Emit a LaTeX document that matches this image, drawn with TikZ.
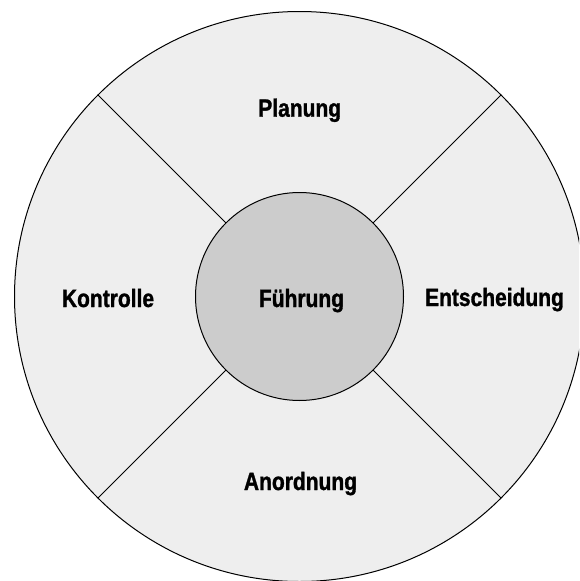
\documentclass[tikz,border=0pt]{standalone}
\usepackage{fontspec}
\newfontfamily\labfont[FakeStretch=0.84,BoldFeatures={FakeBold=1.2}]{Liberation Sans}
\definecolor{outerfill}{HTML}{EEEEEE}
\definecolor{innerfill}{HTML}{CCCCCC}
\begin{document}
\begin{tikzpicture}[x=1pt,y=-1pt,
  ring/.style={circle,draw=black,line width=1pt,inner sep=0pt,outer sep=0pt},
  divider/.style={draw=black,line width=1pt},
  lab/.style={font=\labfont\bfseries\fontsize{25}{25}\selectfont,anchor=base,inner sep=0pt}]
\useasboundingbox (0,0) rectangle (579,581);
\clip (0,0) rectangle (579,581);
\node[ring,fill=outerfill,minimum size=570pt] (outer) at (299.5,296.5) {};
\node[ring,fill=innerfill,minimum size=208pt] (inner) at (299.5,296.5) {};
\draw[divider] (inner.45) -- (outer.45);
\draw[divider] (inner.135) -- (outer.135);
\draw[divider] (inner.225) -- (outer.225);
\draw[divider] (inner.315) -- (outer.315);
\node[lab] (planung) at (299.7,116.7) {Planung};
\node[lab] (entsch) at (494.5,306) {Entscheidung};
\node[lab] (fuehrung) at (301.5,307) {Führung};
\node[lab] (kontrolle) at (108,307) {Kontrolle};
\node[lab] (anordnung) at (300.5,490) {Anordnung};
\end{tikzpicture}
\end{document}
